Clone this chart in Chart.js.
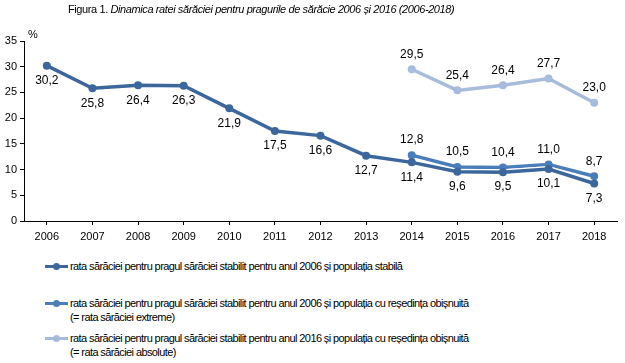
<!DOCTYPE html>
<html>
<head>
<meta charset="utf-8">
<script src="https://cdn.jsdelivr.net/npm/chart.js@4/dist/chart.umd.min.js"></script>
<style>
    body { margin: 0; background: #fff; font-family: "Liberation Sans", Arial, sans-serif; color: #000; }
    .wrap { position: relative; width: 625px; height: 363px; overflow: hidden; }
    #chart { position: absolute; left: 0; top: 0; }
    .title { position: absolute; left: 68px; top: 3px; white-space: nowrap; font-size: 11px; letter-spacing: -0.4px; }
    .unit { position: absolute; left: 28px; top: 28px; font-size: 11px; }
    .legend { position: absolute; left: 45px; top: 259px; font-size: 11px; line-height: 14px; letter-spacing: -0.6px; }
    .legend .item { position: relative; padding-left: 25px; }
    .legend .swatch { position: absolute; left: 0; top: 6px; width: 23px; height: 3px; }
    .legend .swatch i { position: absolute; left: 8px; top: -2px; width: 7px; height: 7px; border-radius: 50%; background: inherit; }
</style>
</head>
<body>
<div class="wrap">
    <canvas id="chart" width="625" height="250"></canvas>
    <div class="title">Figura 1. <i>Dinamica ratei sărăciei pentru pragurile de sărăcie 2006 și 2016 (2006-2018)</i></div>
    <div class="unit">%</div>
    <div class="legend" id="legend"></div>
</div>
<script>
// Chart data
const years = ['2006', '2007', '2008', '2009', '2010', '2011', '2012', '2013', '2014', '2015', '2016', '2017', '2018'];
const stablePop2006 = [30.2, 25.8, 26.4, 26.3, 21.9, 17.5, 16.6, 12.7, 11.4, 9.6, 9.5, 10.1, 7.3];
const extremeRate = [null, null, null, null, null, null, null, null, 12.8, 10.5, 10.4, 11.0, 8.7];
const absoluteRate = [null, null, null, null, null, null, null, null, 29.5, 25.4, 26.4, 27.7, 23.0];
const yTicks = [0, 5, 10, 15, 20, 25, 30, 35];

const seriesNames = [
    'rata sărăciei pentru pragul sărăciei stabilit pentru anul 2006 și populația stabilă',
    'rata sărăciei pentru pragul sărăciei stabilit pentru anul 2006 și populația cu reședința obișnuită<br>(= rata sărăciei extreme)',
    'rata sărăciei pentru pragul sărăciei stabilit pentru anul 2016 și populația cu reședința obișnuită<br>(= rata sărăciei absolute)'
];
const seriesColors = ['#3b679c', '#4a7ebb', '#a7bbdc'];
const labelBelow = [true, false, false];

const FONT = '"Liberation Sans", Arial, sans-serif';

function fmt(v) {
    return v.toFixed(1).replace('.', ',');
}

// White halo under each line, like the original
const haloPlugin = {
    id: 'halo',
    beforeDatasetDraw(chart, args) {
        const meta = chart.getDatasetMeta(args.index);
        const ctx = chart.ctx;
        ctx.save();
        ctx.strokeStyle = '#ffffff';
        ctx.lineWidth = 6;
        ctx.lineJoin = 'round';
        ctx.beginPath();
        let started = false;
        meta.data.forEach((pt, i) => {
            if (chart.data.datasets[args.index].data[i] == null) return;
            if (!started) { ctx.moveTo(pt.x, pt.y); started = true; }
            else ctx.lineTo(pt.x, pt.y);
        });
        ctx.stroke();
        ctx.restore();
    }
};

// Value labels above / below points
const valueLabels = {
    id: 'valueLabels',
    afterDatasetsDraw(chart) {
        const ctx = chart.ctx;
        ctx.save();
        ctx.font = '12px ' + FONT;
        ctx.fillStyle = '#000';
        ctx.textAlign = 'center';
        ctx.textBaseline = 'middle';
        chart.data.datasets.forEach((ds, di) => {
            const meta = chart.getDatasetMeta(di);
            meta.data.forEach((pt, i) => {
                const v = ds.data[i];
                if (v == null) return;
                const dy = labelBelow[di] ? 15 : -15;
                ctx.fillText(fmt(v), pt.x, pt.y + dy);
            });
        });
        ctx.restore();
    }
};

const allSeries = [stablePop2006, extremeRate, absoluteRate];

const chart = new Chart(document.getElementById('chart'), {
    type: 'line',
    data: {
        labels: years,
        datasets: allSeries.map((values, i) => ({
            label: seriesNames[i],
            data: values,
            borderColor: seriesColors[i],
            backgroundColor: seriesColors[i],
            borderWidth: 3.5,
            pointRadius: 4,
            pointBorderWidth: 0,
            pointHoverRadius: 4,
            tension: 0,
            spanGaps: false
        }))
    },
    options: {
        responsive: false,
        animation: false,
        events: [],
        layout: { padding: { left: 0, right: 8, top: 41, bottom: 5 } },
        plugins: {
            legend: { display: false },
            tooltip: { enabled: false }
        },
        scales: {
            x: {
                offset: true,
                grid: {
                    offset: false,
                    drawOnChartArea: false,
                    color: '#000',
                    tickLength: 4
                },
                border: { color: '#000', width: 1 },
                ticks: { color: '#000', font: { family: FONT, size: 11 }, padding: 5, maxRotation: 0 },
                afterFit(scale) { scale.height = 24; }
            },
            y: {
                min: 0,
                max: 35,
                afterBuildTicks(scale) { scale.ticks = yTicks.map(v => ({ value: v })); },
                grid: {
                    drawOnChartArea: false,
                    color: '#000',
                    tickLength: 4
                },
                border: { color: '#000', width: 1 },
                ticks: { color: '#000', font: { family: FONT, size: 11 }, padding: 3 },
                afterFit(scale) { scale.width = 24; }
            }
        }
    },
    plugins: [haloPlugin, valueLabels]
});

// HTML legend
const legendEl = document.getElementById('legend');
const legendTops = [0, 37, 72];
seriesNames.forEach((name, i) => {
    const item = document.createElement('div');
    item.className = 'item';
    item.style.position = 'absolute';
    item.style.top = legendTops[i] + 'px';
    item.style.whiteSpace = 'nowrap';
    item.innerHTML = `<span class="swatch" style="background:${seriesColors[i]}"><i></i></span>${name}`;
    legendEl.appendChild(item);
});
</script>
</body>
</html>
